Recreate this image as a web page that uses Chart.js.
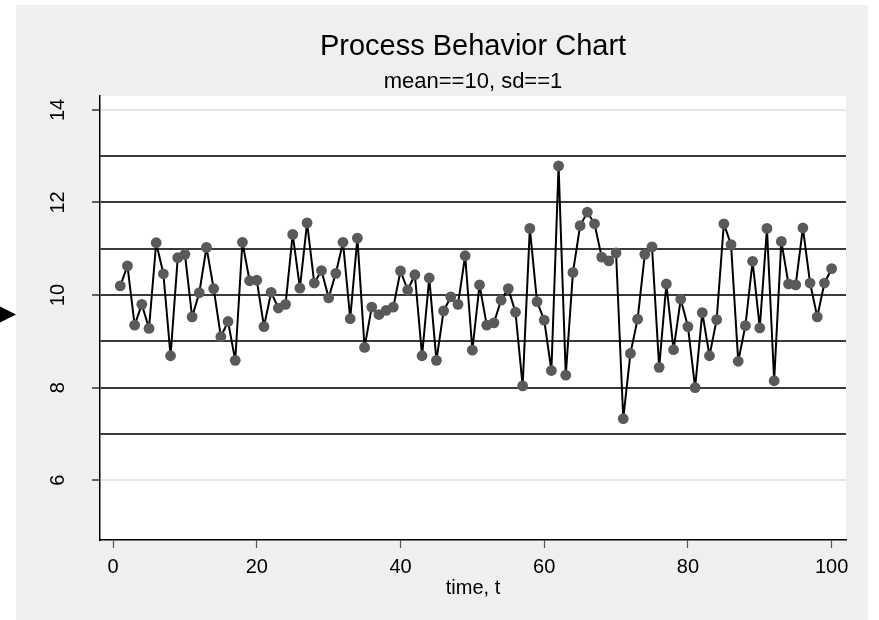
<!DOCTYPE html>
<html><head><meta charset="utf-8">
<script src="https://cdn.jsdelivr.net/npm/chart.js@4.4.1/dist/chart.umd.min.js"></script>
<style>html,body{margin:0;padding:0;background:#fff;} canvas{display:block;}</style>
</head><body>
<canvas id="c" width="879" height="620"></canvas>
<script>
const chartTitle = 'Process Behavior Chart';
const chartSubtitle = 'mean==10, sd==1';
const xAxisTitle = 'time, t';
const times = [1,2,3,4,5,6,7,8,9,10,11,12,13,14,15,16,17,18,19,20,
21,22,23,24,25,26,27,28,29,30,31,32,33,34,35,36,37,38,39,40,
41,42,43,44,45,46,47,48,49,50,51,52,53,54,55,56,57,58,59,60,
61,62,63,64,65,66,67,68,69,70,71,72,73,74,75,76,77,78,79,80,
81,82,83,84,85,86,87,88,89,90,91,92,93,94,95,96,97,98,99,100];
const values = [10.20,10.63,9.35,9.80,9.28,11.13,10.46,8.69,10.81,10.88,
9.53,10.05,11.03,10.14,9.10,9.43,8.59,11.14,10.31,10.32,
9.32,10.06,9.72,9.80,11.31,10.15,11.56,10.26,10.53,9.94,
10.47,11.14,9.49,11.23,8.87,9.74,9.58,9.67,9.74,10.52,
10.11,10.44,8.69,10.37,8.59,9.66,9.96,9.80,10.85,8.81,
10.22,9.35,9.40,9.89,10.14,9.63,8.04,11.44,9.86,9.46,
8.37,12.79,8.27,10.49,11.50,11.79,11.54,10.82,10.74,10.91,
7.33,8.74,9.48,10.88,11.04,8.44,10.24,8.82,9.91,9.32,
8.00,9.62,8.69,9.47,11.54,11.09,8.57,9.34,10.73,9.29,
11.44,8.15,11.16,10.24,10.22,11.45,10.26,9.53,10.26,10.57];
const xTickValues = [0,20,40,60,80,100];
const yTickValues = [6,8,10,12,14];
const controlLines = [7,8,9,10,11,12,13];
const xRange = [-1.82, 102.0];
const yRange = [4.71, 14.3];

const FONT = '"Liberation Sans", Arial, sans-serif';
const allYTicks = Array.from(new Set(yTickValues.concat(controlLines))).sort((a,b)=>a-b);

const decor = {
  id: 'decor',
  beforeDraw(chart) {
    const ctx = chart.ctx, a = chart.chartArea;
    ctx.save();
    ctx.fillStyle = '#ffffff';
    ctx.fillRect(0, 0, chart.width, chart.height);
    ctx.fillStyle = '#efefef';
    ctx.fillRect(16, 5, 852, 615);
    ctx.fillStyle = '#ffffff';
    ctx.fillRect(a.left, a.top, a.right - a.left, a.bottom - a.top);
    ctx.restore();
  },
  afterDraw(chart) {
    const ctx = chart.ctx, a = chart.chartArea;
    const xs = chart.scales.x, ys = chart.scales.y;
    const cx = (a.left + a.right) / 2;
    ctx.save();
    ctx.fillStyle = '#000';
    ctx.textAlign = 'center';
    ctx.textBaseline = 'alphabetic';
    ctx.font = '29px ' + FONT;
    ctx.fillText(chartTitle, cx, 55);
    ctx.font = '22px ' + FONT;
    ctx.fillText(chartSubtitle, cx, 88);
    ctx.font = '20px ' + FONT;
    xTickValues.forEach(v => ctx.fillText(String(v), xs.getPixelForValue(v), 572.5));
    ctx.fillText(xAxisTitle, cx, 594);
    yTickValues.forEach(v => {
      ctx.save();
      ctx.translate(63.5, ys.getPixelForValue(v));
      ctx.rotate(-Math.PI / 2);
      ctx.fillText(String(v), 0, 0);
      ctx.restore();
    });
    // pointer marker at the left edge
    ctx.beginPath();
    ctx.moveTo(0, 306.5);
    ctx.lineTo(16, 314.5);
    ctx.lineTo(0, 322.5);
    ctx.closePath();
    ctx.fillStyle = '#000';
    ctx.fill();
    ctx.restore();
  }
};

new Chart(document.getElementById('c'), {
  type: 'line',
  data: {
    datasets: [{
      data: times.map((t, i) => ({x: t, y: values[i]})),
      borderColor: '#000000',
      borderWidth: 2,
      borderJoinStyle: 'round',
      borderCapStyle: 'round',
      tension: 0,
      pointRadius: 5.4,
      pointBackgroundColor: '#5a5a5a',
      pointBorderColor: '#5a5a5a',
      pointBorderWidth: 0,
      fill: false
    }]
  },
  options: {
    responsive: false,
    animation: false,
    devicePixelRatio: 1,
    layout: { padding: { left: 92, right: 33, top: 96, bottom: 72 } },
    plugins: { legend: { display: false }, title: { display: false }, tooltip: { enabled: false } },
    scales: {
      x: {
        type: 'linear',
        min: xRange[0], max: xRange[1],
        afterBuildTicks: s => { s.ticks = xTickValues.map(v => ({value: v})); },
        ticks: { display: false },
        grid: { drawOnChartArea: false, drawTicks: true, tickLength: 8, tickColor: '#555', tickWidth: 1.2 },
        border: { display: true, color: '#000', width: 1.5 }
      },
      y: {
        type: 'linear',
        min: yRange[0], max: yRange[1],
        afterBuildTicks: s => { s.ticks = allYTicks.map(v => ({value: v})); },
        ticks: { display: false },
        grid: {
          drawOnChartArea: true, drawTicks: true, tickLength: 8, tickWidth: 1.2,
          color: c => (c.tick && controlLines.includes(c.tick.value)) ? '#3a3a3a' : '#e6e6e6',
          lineWidth: c => (c.tick && controlLines.includes(c.tick.value)) ? 2 : 2,
          tickColor: c => (c.tick && yTickValues.includes(c.tick.value)) ? '#000' : 'rgba(0,0,0,0)'
        },
        border: { display: true, color: '#000', width: 1.5 }
      }
    }
  },
  plugins: [decor]
});
</script>
</body></html>
